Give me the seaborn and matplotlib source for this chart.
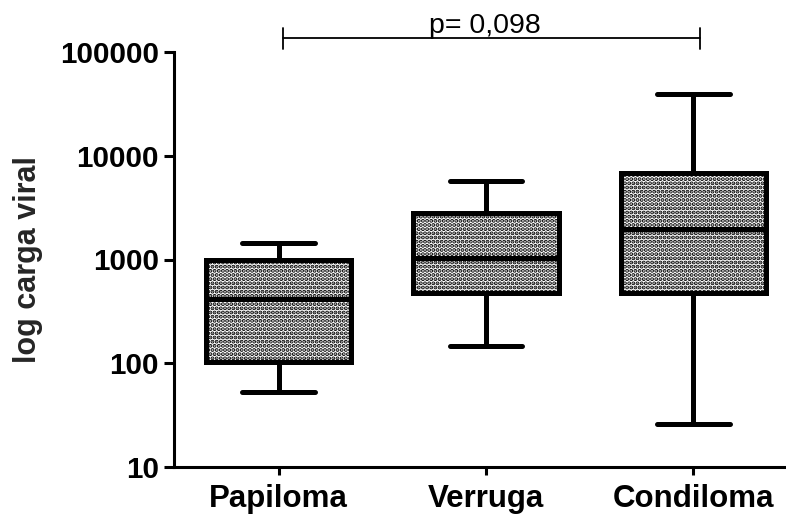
import numpy as np
import pandas as pd
import matplotlib
matplotlib.use("Agg")
import matplotlib.pyplot as plt
import matplotlib.ticker as mticker
import seaborn as sns

# ---- data (five-number summaries) ----
categories = ["Papiloma", "Verruga", "Condiloma"]
mins    = [53, 147, 26]
q1s     = [103, 475, 475]
medians = [416, 1030, 1970]
q3s     = [980, 2800, 6830]
maxs    = [1440, 5700, 39400]
ytick_values = [10, 100, 1000, 10000, 100000]
ytick_labels = ["10", "100", "1000", "10000", "100000"]
p_text = "p= 0,098"

rows = []
for c, a, b, m, d, e in zip(categories, mins, q1s, medians, q3s, maxs):
    for v in (a, b, m, d, e):
        rows.append({"grupo": c, "carga": v})
df = pd.DataFrame(rows)

sns.set_style("ticks")
plt.rcParams["font.family"] = ["Liberation Sans", "DejaVu Sans"]
plt.rcParams["hatch.linewidth"] = 2.0
plt.rcParams["hatch.color"] = "black"

fig = plt.figure(figsize=(7.86, 5.16), dpi=100)
ax = fig.add_axes([174/786, 49/516, (786-174)/786, 415/516])

lw = 3.6
sns.boxplot(data=df, x="grupo", y="carga", order=categories, ax=ax,
            whis=(0, 100), width=0.7, color="white", linecolor="black",
            linewidth=lw, log_scale=True, fliersize=0,
            boxprops=dict(hatch="....", edgecolor="black", facecolor="white"))

ax.set_ylim(10, 100000)
ax.set_xlim(-0.504, 2.446)
ax.yaxis.set_major_locator(mticker.FixedLocator(ytick_values))
ax.yaxis.set_major_formatter(mticker.FixedFormatter(ytick_labels))
ax.yaxis.set_minor_locator(mticker.NullLocator())

for s in ("top", "right"):
    ax.spines[s].set_visible(False)
for s in ("left", "bottom"):
    ax.spines[s].set_linewidth(2.2)
    ax.spines[s].set_color("black")

ax.tick_params(axis="y", length=7, width=2.2, pad=4, labelsize=21.3, colors="black")
ax.tick_params(axis="x", length=6, width=2.2, pad=6, labelsize=22.5, colors="black")
for lab in ax.get_xticklabels() + ax.get_yticklabels():
    lab.set_fontweight("bold")

ax.set_xlabel("")
ax.set_ylabel("log carga viral", fontsize=22, fontweight="bold")
ax.yaxis.set_label_coords(-0.214, 0.5)

# significance bracket
trans = ax.get_xaxis_transform()
x0, x1 = 0.02, 2.03
yl, ylo, yhi = 1.0337, 1.0072, 1.058
ax.plot([x0, x1], [yl, yl], color="black", lw=1.3, transform=trans, clip_on=False)
ax.plot([x0, x0], [ylo, yhi], color="black", lw=1.3, transform=trans, clip_on=False)
ax.plot([x1, x1], [ylo, yhi], color="black", lw=1.3, transform=trans, clip_on=False)
ax.text(0.995, 1.0458, p_text, transform=trans, ha="center", va="baseline",
        fontsize=20.5, color="black")

fig.savefig("out.png", dpi=100)
